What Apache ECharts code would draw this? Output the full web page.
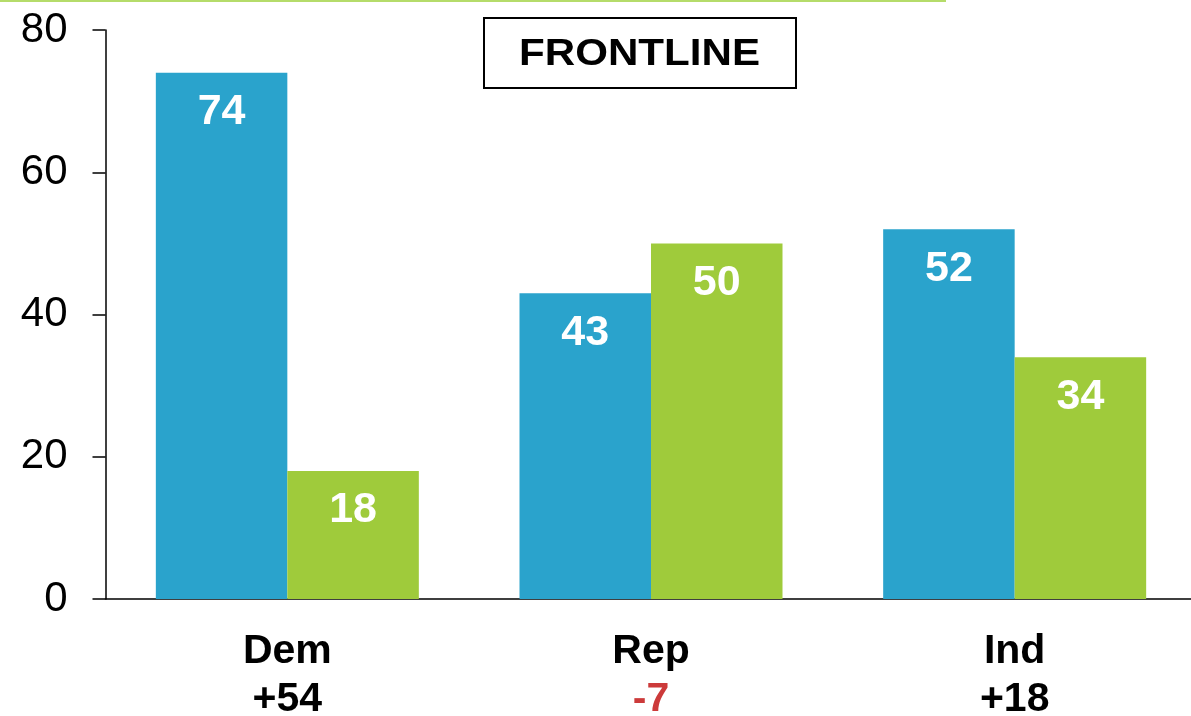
<!DOCTYPE html>
<html>
<head>
<meta charset="utf-8">
<script src="https://cdn.jsdelivr.net/npm/echarts@6/dist/echarts.min.js"></script>
<style>
html,body{margin:0;padding:0;background:#fff;}
#chart{width:1191px;height:716px;}
</style>
</head>
<body>
<div id="chart"></div>
<script>
const categories = ['Dem', 'Rep', 'Ind'];
const netLabels = ['+54', '-7', '+18'];
const seriesA = [74, 43, 52];
const seriesB = [18, 50, 34];
const yTicks = [0, 20, 40, 60, 80];
const titleText = 'FRONTLINE';

const FONT = '"Liberation Sans", Arial, sans-serif';
const chart = echarts.init(document.getElementById('chart'));

const labelStyle = {
  show: true,
  position: 'insideTop',
  distance: 18,
  color: '#fff',
  fontFamily: FONT,
  fontWeight: 'bold',
  fontSize: 43
};

chart.setOption({
  animation: false,
  backgroundColor: '#fff',
  grid: { left: 105.5, top: 30, width: 1091, bottom: 117, containLabel: false, outerBoundsMode: 'none' },
  xAxis: {
    type: 'category',
    data: categories,
    axisLine: { lineStyle: { color: '#000', width: 1.5 } },
    axisTick: { show: false },
    axisLabel: {
      margin: 29,
      interval: 0,
      formatter: function (v, i) {
        const n = netLabels[i];
        const style = n.charAt(0) === '-' ? 'neg' : 'pos';
        return '{cat|' + v + '}\n{' + style + '|' + n + '}';
      },
      rich: {
        cat: { fontFamily: FONT, fontWeight: 'bold', fontSize: 41, color: '#000', lineHeight: 48 },
        pos: { fontFamily: FONT, fontWeight: 'bold', fontSize: 41, color: '#000', lineHeight: 48 },
        neg: { fontFamily: FONT, fontWeight: 'bold', fontSize: 41, color: '#cc3a3a', lineHeight: 48 }
      }
    }
  },
  yAxis: {
    type: 'value',
    min: yTicks[0],
    max: yTicks[yTicks.length - 1],
    interval: 20,
    splitLine: { show: false },
    axisLine: { show: true, lineStyle: { color: '#000', width: 1.5 } },
    axisTick: { show: true, length: 13, lineStyle: { color: '#000', width: 1.5 } },
    axisLabel: { margin: 38, color: '#000', fontFamily: FONT, fontSize: 42 }
  },
  series: [
    {
      name: 'A', type: 'bar', data: seriesA, barWidth: 131.5, barGap: '0%',
      itemStyle: { color: '#2aa3cc' }, label: labelStyle
    },
    {
      name: 'B', type: 'bar', data: seriesB, barWidth: 131.5, barGap: '0%',
      itemStyle: { color: '#9fcb3b' }, label: labelStyle
    }
  ],
  graphic: [
    { type: 'rect', shape: { x: 0, y: 0, width: 946, height: 2 }, style: { fill: '#b5dc6a' }, silent: true },
    { type: 'rect', shape: { x: 484, y: 18, width: 312, height: 70 }, style: { fill: '#fff', stroke: '#000', lineWidth: 2 }, z: 100 },
    {
      type: 'group', x: 639.5, y: 55, scaleX: 1.17, z: 101,
      children: [{
        type: 'text', x: 0, y: 0, z: 101,
        style: { text: titleText, fill: '#000', font: 'bold 36px ' + FONT, align: 'center', verticalAlign: 'middle' }
      }]
    }
  ]
});
</script>
</body>
</html>
